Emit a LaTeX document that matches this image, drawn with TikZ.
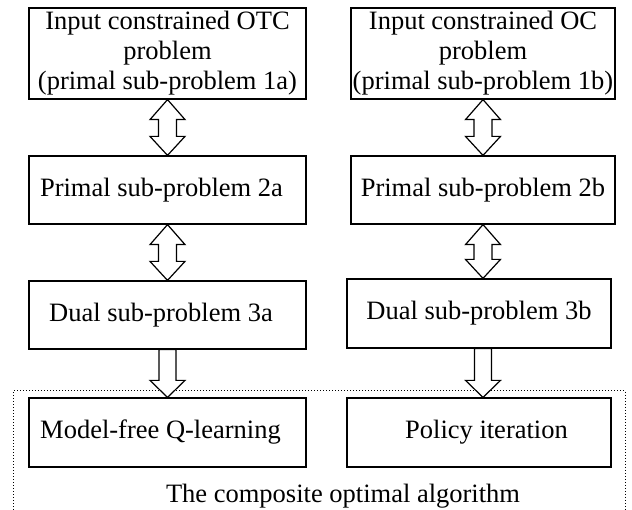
\documentclass[tikz,border=0pt]{standalone}
\usepackage{fontspec}
\setmainfont{Liberation Serif}
\usetikzlibrary{calc}

\tikzset{
  box/.style={draw, line width=1.2pt, inner sep=0pt, align=center,
    font=\fontsize{26.5}{30}\selectfont},
  widebox/.style={box, minimum width=277pt},
  narrowbox/.style={box, minimum width=264pt},
  hollow/.style={draw, line width=1.2pt, fill=white, line join=miter},
  frame/.style={line width=1pt, dash pattern=on 1pt off 2pt},
}

% hollow two-headed arrow between the bottom of one box and the top of the next
\newcommand\twoway[2]{%
  \draw[hollow] let \p1=(#1), \p2=(#2) in
    (\x1,\y1) -- (\x1+17.5pt,\y1-20pt) -- (\x1+9pt,\y1-20pt)
    -- (\x1+9pt,\y2+19pt) -- (\x1+17.5pt,\y2+19pt) -- (\x1,\y2)
    -- (\x1-17.5pt,\y2+19pt) -- (\x1-9pt,\y2+19pt)
    -- (\x1-9pt,\y1-20pt) -- (\x1-17.5pt,\y1-20pt) -- cycle;}

% hollow one-headed arrow pointing down
\newcommand\oneway[2]{%
  \draw[hollow] let \p1=(#1), \p2=(#2) in
    (\x1-8.5pt,\y1) -- (\x1+8.5pt,\y1) -- (\x1+8.5pt,\y2+17pt)
    -- (\x1+17.5pt,\y2+17pt) -- (\x1,\y2) -- (\x1-17.5pt,\y2+17pt)
    -- (\x1-8.5pt,\y2+17pt) -- cycle;}

\begin{document}
\begin{tikzpicture}[x=1pt, y=1pt]
  \useasboundingbox (0,0) rectangle (632,510);

  % left column
  \node[widebox, minimum height=91pt] (p1a) at (167.5,456.5)
    {Input constrained OTC\\problem\\(primal sub-problem 1a)};
  \node[widebox, minimum height=68pt] (p2a) at (167.5,320)
    {Primal sub-problem 2a\hspace*{12pt}};
  \node[widebox, minimum height=68pt] (d3a) at (167.5,195)
    {Dual sub-problem 3a\hspace*{13pt}};
  \node[widebox, minimum height=69pt] (qlearn) at (167.5,77.5)
    {Model-free Q-learning\hspace*{14pt}};

  % right column
  \node[narrowbox, minimum height=91pt] (p1b) at (483,456.5)
    {Input constrained OC\\problem\\(primal sub-problem 1b)};
  \node[narrowbox, minimum height=68pt] (p2b) at (483,320)
    {Primal sub-problem 2b};
  \node[narrowbox, minimum height=69pt] (d3b) at (479,196.5)
    {Dual sub-problem 3b};
  \node[narrowbox, minimum height=69pt] (polit) at (479,77.5)
    {\hspace*{15pt}Policy iteration};

  % dotted frame around the composite algorithm
  \coordinate (fbl) at (13,0);
  \coordinate (ftl) at (13,119);
  \coordinate (ftr) at (625,119);
  \coordinate (fbr) at (625,0);
  \draw[frame] (fbl) -- (ftl) -- (ftr) -- (fbr);
  \node[anchor=base, font=\fontsize{26.5}{30}\selectfont, inner sep=0pt]
    (algo) at (343,7) {The composite optimal algorithm};

  % arrows
  \twoway{p1a.south}{p2a.north}
  \twoway{p2a.south}{d3a.north}
  \twoway{p1b.south}{p2b.north}
  \twoway{p2b.south}{d3b.north}
  \oneway{d3a.south}{qlearn.north}
  \oneway{[xshift=4pt]d3b.south}{[xshift=4pt]polit.north}
\end{tikzpicture}
\end{document}
